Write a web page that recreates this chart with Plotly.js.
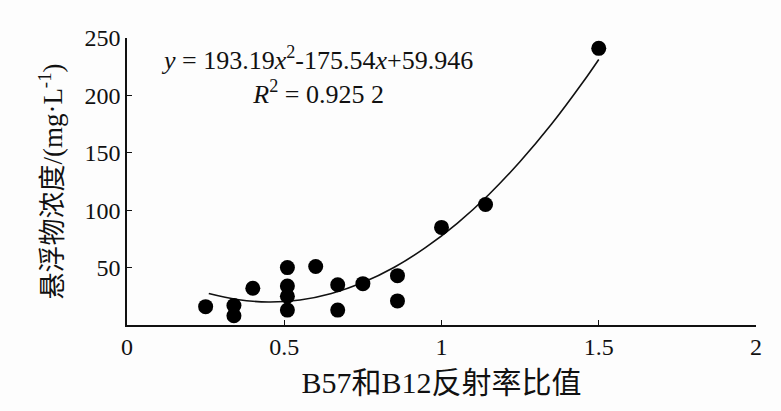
<!DOCTYPE html>
<html>
<head>
<meta charset="utf-8">
<script src="https://cdn.plot.ly/plotly-3.0.1.min.js"></script>
<style>html,body{margin:0;padding:0;background:#fff;}#chart{width:781px;height:411px;}</style>
</head>
<body>
<div id="chart"></div>
<script>
// Measured points: B57/B12 reflectance ratio vs suspended matter concentration (mg/L)
var ratioX = [0.25, 0.34, 0.34, 0.40, 0.51, 0.51, 0.51, 0.51, 0.60, 0.67, 0.67, 0.75, 0.86, 0.86, 1.00, 1.14, 1.50];
var concY  = [16, 17, 8, 32, 50, 34, 25, 13, 51, 35, 13, 36, 43, 21, 85, 105, 241];

// Fitted trend curve
var fitX = [0.26, 0.35, 0.45, 0.55, 0.65, 0.75, 0.85, 0.95, 1.05, 1.15, 1.25, 1.35, 1.45, 1.50];
var fitY = [27.4, 22.2, 20.1, 21.8, 27.5, 37.0, 50.3, 67.6, 88.6, 113.5, 142.4, 175.0, 211.6, 231.3];

var xTicks = [0, 0.5, 1, 1.5, 2];
var xTickText = ['0', '0.5', '1', '1.5', '2'];
var yTicks = [50, 100, 150, 200, 250];
var yTickText = ['50', '100', '150', '200', '250'];

var eqText = '<i>y</i> = 193.19<i>x</i><sup>2</sup>-175.54<i>x</i>+59.946<br><i>R</i><sup>2</sup> = 0.925 2';

var serif = '"Liberation Serif", "DejaVu Serif", "Noto Sans CJK SC", serif';

var traces = [
  {x: fitX, y: fitY, mode: 'lines', type: 'scatter', line: {color: '#111', width: 1.6, shape: 'spline'}, hoverinfo: 'skip'},
  {x: ratioX, y: concY, mode: 'markers', type: 'scatter', marker: {color: '#000', size: 15, line: {width: 0}}}
];

var layout = {
  width: 781, height: 411,
  margin: {l: 127, r: 25, t: 38, b: 86},
  paper_bgcolor: '#fdfdfd', plot_bgcolor: '#fdfdfd',
  showlegend: false,
  font: {family: serif, color: '#111', size: 23},
  xaxis: {
    range: [0, 2], tickvals: xTicks, ticktext: xTickText,
    showgrid: false, zeroline: false, showline: true, linecolor: '#111', linewidth: 1.6,
    ticks: 'inside', ticklen: 5, tickcolor: '#111', tickwidth: 1.3,
    tickfont: {family: serif, size: 24, color: '#111'},
    title: {text: 'B57和B12反射率比值', font: {family: serif, size: 30, color: '#111'}, standoff: 12}
  },
  yaxis: {
    range: [0, 250], tickvals: yTicks, ticktext: yTickText,
    showgrid: false, zeroline: false, showline: true, linecolor: '#111', linewidth: 1.6,
    ticks: 'inside', ticklen: 5, tickcolor: '#111', tickwidth: 1.3,
    tickfont: {family: serif, size: 24, color: '#111'},
    title: {text: '悬浮物浓度/(mg·L<sup>-1</sup>)', font: {family: serif, size: 27, color: '#111'}, standoff: 14}
  },
  annotations: [
    {xref: 'x', yref: 'y', x: 0.605, y: 217, text: eqText, showarrow: false, xanchor: 'center', yanchor: 'middle', align: 'center', font: {family: serif, size: 26, color: '#111'}}
  ]
};

Plotly.newPlot('chart', traces, layout, {displayModeBar: false, staticPlot: true});
</script>
</body>
</html>
